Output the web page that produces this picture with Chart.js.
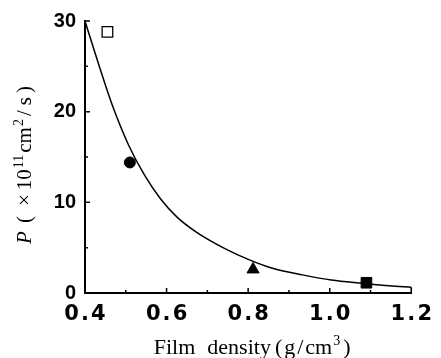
<!DOCTYPE html>
<html>
<head>
<meta charset="utf-8">
<script src="https://cdn.jsdelivr.net/npm/chart.js@4.4.1/dist/chart.umd.min.js"></script>
<style>
  html, body { margin: 0; padding: 0; background: #fff; }
</style>
</head>
<body>
<canvas id="densChart" width="441" height="358"></canvas>
<script>
// fitted curve
let curve_x = [0.40, 0.435, 0.467, 0.507, 0.546, 0.585, 0.625, 0.672, 0.743, 0.806, 0.862, 0.933, 1.004, 1.082, 1.146, 1.20];
let curve_y = [30.0, 25.0, 20.7, 16.3, 13.0, 10.4, 8.4, 6.75, 4.9, 3.6, 2.7, 2.0, 1.43, 1.07, 0.80, 0.63];
// little drop at the right end of the curve
let end_x = [1.20, 1.20];
let end_y = [0.63, 0.25];

// measured films
let open_sq = [{ x: 0.455, y: 28.8 }];
let circle_pt = [{ x: 0.51, y: 14.4 }];
let triangle_pt = [{ x: 0.812, y: 2.6 }];
let filled_sq = [{ x: 1.09, y: 1.13 }];

let x_ticks = [0.4, 0.6, 0.8, 1.0, 1.2];
let x_minor = [0.5, 0.7, 0.9, 1.1];
let y_ticks = [0, 10, 20, 30];
let y_minor = [5, 15, 25];

const serif = '"Liberation Serif", "Times New Roman", serif';

// axis titles with real superscripts
let y_title = [
    { t: 'P', font: 'italic 21px ' + serif, gap: 0 },
    { t: '(', font: '21px ' + serif, gap: 8 },
    { t: '×', font: '21px ' + serif, gap: 10 },
    { t: '10', font: '21px ' + serif, gap: 4 },
    { t: '11', font: '14px ' + serif, gap: 1, rise: 8 },
    { t: 'cm', font: '21px ' + serif, gap: 2 },
    { t: '2', font: '14px ' + serif, gap: 1, rise: 8 },
    { t: '/', font: '21px ' + serif, gap: 3 },
    { t: 's', font: '21px ' + serif, gap: 5 },
    { t: ')', font: '21px ' + serif, gap: 4 }
];
let x_title = [
    { t: 'Film', font: '22px ' + serif, gap: 0 },
    { t: 'density', font: '22px ' + serif, gap: 12 },
    { t: '(', font: '22px ' + serif, gap: 4 },
    { t: 'g', font: '22px ' + serif, gap: 2 },
    { t: '/', font: '22px ' + serif, gap: 2 },
    { t: 'cm', font: '22px ' + serif, gap: 2 },
    { t: '3', font: '14px ' + serif, gap: 1, rise: 9 },
    { t: ')', font: '22px ' + serif, gap: 3 }
];

const toPts = (xs, ys) => xs.map((x, i) => ({ x: x, y: ys[i] }));

function drawRuns(ctx, runs, cx, base) {
    let total = 0;
    runs.forEach(r => {
        ctx.font = r.font;
        r.w = ctx.measureText(r.t).width;
        total += r.gap + r.w;
    });
    let x = cx - total / 2;
    runs.forEach(r => {
        x += r.gap;
        ctx.font = r.font;
        ctx.fillText(r.t, x, base - (r.rise || 0));
        x += r.w;
    });
}

const titles = {
    id: 'titles',
    afterDraw(chart) {
        const ctx = chart.ctx;
        const xs = chart.scales.x;
        const ys = chart.scales.y;
        ctx.save();
        ctx.fillStyle = '#000';
        ctx.textBaseline = 'alphabetic';
        ctx.textAlign = 'left';
        drawRuns(ctx, x_title, (xs.left + xs.right) / 2 + 4, chart.height - 4);
        ctx.translate(31, (ys.top + ys.bottom) / 2 + 8);
        ctx.rotate(-Math.PI / 2);
        drawRuns(ctx, y_title, 0, 0);
        ctx.restore();
    }
};

// ticks point into the plot
const innerTicks = {
    id: 'innerTicks',
    afterDraw(chart) {
        const ctx = chart.ctx;
        const xs = chart.scales.x;
        const ys = chart.scales.y;
        const x0 = xs.getPixelForValue(0.4);
        const y0 = ys.getPixelForValue(0);
        ctx.save();
        ctx.strokeStyle = '#000';
        ctx.lineWidth = 1.5;
        ctx.beginPath();
        x_ticks.forEach(v => {
            let px = xs.getPixelForValue(v);
            ctx.moveTo(px, y0); ctx.lineTo(px, y0 - 5);
        });
        x_minor.forEach(v => {
            let px = xs.getPixelForValue(v);
            ctx.moveTo(px, y0); ctx.lineTo(px, y0 - 3);
        });
        y_ticks.forEach(v => {
            let py = ys.getPixelForValue(v);
            ctx.moveTo(x0, py); ctx.lineTo(x0 + 5, py);
        });
        y_minor.forEach(v => {
            let py = ys.getPixelForValue(v);
            ctx.moveTo(x0, py); ctx.lineTo(x0 + 3, py);
        });
        ctx.stroke();
        ctx.restore();
    }
};

new Chart(document.getElementById('densChart'), {
    type: 'scatter',
    data: {
        datasets: [
            {
                data: toPts(curve_x, curve_y),
                showLine: true,
                borderColor: '#000',
                borderWidth: 1.5,
                pointRadius: 0,
                cubicInterpolationMode: 'monotone',
                fill: false
            },
            {
                data: toPts(end_x, end_y),
                showLine: true,
                borderColor: '#000',
                borderWidth: 1.2,
                pointRadius: 0
            },
            {
                data: open_sq,
                pointStyle: 'rect',
                pointRadius: 7.5,
                backgroundColor: '#fff',
                borderColor: '#000',
                borderWidth: 1.3
            },
            {
                data: circle_pt,
                pointStyle: 'circle',
                pointRadius: 5.5,
                backgroundColor: '#000',
                borderColor: '#000',
                borderWidth: 1
            },
            {
                data: triangle_pt,
                pointStyle: 'triangle',
                pointRadius: 7,
                backgroundColor: '#000',
                borderColor: '#000',
                borderWidth: 1
            },
            {
                data: filled_sq,
                pointStyle: 'rect',
                pointRadius: 7.5,
                backgroundColor: '#000',
                borderColor: '#000',
                borderWidth: 1
            }
        ]
    },
    options: {
        responsive: false,
        maintainAspectRatio: false,
        animation: false,
        clip: false,
        layout: { padding: { top: 21, right: 18, left: 0, bottom: 0 } },
        plugins: {
            legend: { display: false },
            tooltip: { enabled: false }
        },
        scales: {
            x: {
                type: 'linear',
                min: 0.4,
                max: 1.2,
                afterBuildTicks: (s) => { s.ticks = x_ticks.map(v => ({ value: v })); },
                afterFit: (s) => { s.height = 65; },
                grid: { display: false, drawTicks: false },
                border: { display: true, color: '#000', width: 2 },
                ticks: {
                    color: '#000',
                    padding: 9,
                    maxRotation: 0,
                    font: { family: '"DejaVu Sans", sans-serif', size: 21, weight: 'bold' },
                    callback: (v) => v.toFixed(1).replace('.', '\u200a.\u200a')
                }
            },
            y: {
                type: 'linear',
                min: 0,
                max: 30,
                afterBuildTicks: (s) => { s.ticks = y_ticks.map(v => ({ value: v })); },
                afterFit: (s) => { s.width = 85; },
                grid: { display: false, drawTicks: false },
                border: { display: true, color: '#000', width: 2 },
                ticks: {
                    color: '#000',
                    padding: 9,
                    font: { family: '"Liberation Sans", Arial', size: 20, weight: 'bold' }
                }
            }
        }
    },
    plugins: [innerTicks, titles]
});
</script>
</body>
</html>
